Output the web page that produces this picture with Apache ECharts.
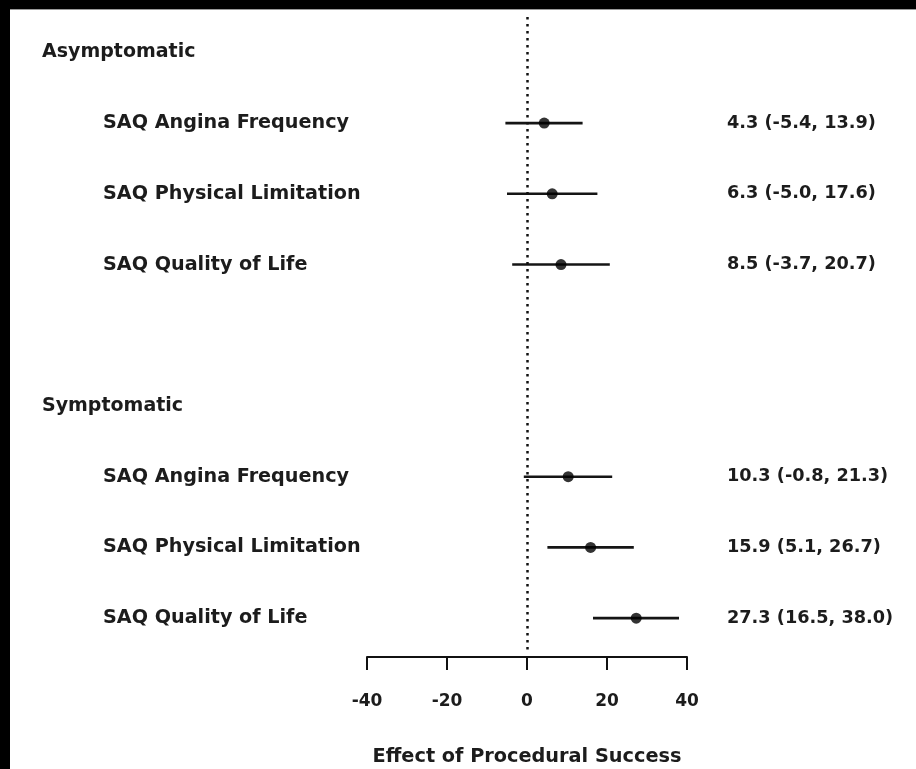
<!DOCTYPE html>
<html>
<head>
<meta charset="utf-8">
<title>Effect of Procedural Success</title>
<script src="https://cdn.jsdelivr.net/npm/echarts@6/dist/echarts.min.js"></script>
<style>
  html, body { margin: 0; padding: 0; background: #fff; }
  #chart { position: absolute; left: 0; top: 0; width: 916px; height: 769px; background: #fff; }
  .frame-top { position: absolute; left: 0; top: 0; width: 916px; height: 9px; background: #000; border-bottom: 1px solid #999; }
  .frame-left { position: absolute; left: 0; top: 0; width: 10px; height: 769px; background: #000; }
</style>
</head>
<body>
<div id="chart"></div>
<div class="frame-top"></div>
<div class="frame-left"></div>
<script>
// Subgroups and outcomes shown in the forest plot
const groups = ['Asymptomatic', 'Symptomatic'];
const outcomes = ['SAQ Angina Frequency', 'SAQ Physical Limitation', 'SAQ Quality of Life'];

// Point estimates and 95% confidence limits, by group then outcome
const estimate = [4.3, 6.3, 8.5, 10.3, 15.9, 27.3];
const lower    = [-5.4, -5.0, -3.7, -0.8, 5.1, 16.5];
const upper    = [13.9, 17.6, 20.7, 21.3, 26.7, 38.0];

// Effect axis
const xMin = -40, xMax = 40, xStep = 20;
const xTitle = 'Effect of Procedural Success';

// Build the row layout: a header row per group, its outcomes, and a spacer between groups
const rows = [];
groups.forEach((g, gi) => {
  if (gi > 0) rows.push({ kind: 'blank', label: '' });
  rows.push({ kind: 'header', label: g });
  outcomes.forEach((o, oi) => {
    rows.push({ kind: 'item', label: o, k: gi * outcomes.length + oi });
  });
});
const rowLabels = rows.map(r => r.label);

const fmt = v => v.toFixed(1);
const points = [], bars = [];
rows.forEach((r, i) => {
  if (r.kind !== 'item') return;
  points.push([estimate[r.k], i]);
  bars.push([lower[r.k], upper[r.k], i]);
});

const FONT = 'DejaVu Sans';
const TXT = '#1c1c1c';

const chart = echarts.init(document.getElementById('chart'), null, { renderer: 'canvas' });
chart.setOption({
  backgroundColor: '#fff',
  animation: false,
  grid: { left: 367, right: 229, top: 17, bottom: 115.5, containLabel: false, outerBoundsMode: 'none' },
  xAxis: {
    type: 'value', min: xMin, max: xMax, interval: xStep, offset: 3.5,
    position: 'bottom',
    axisLine: { show: true, lineStyle: { color: '#111', width: 2 } },
    axisTick: { show: true, inside: false, length: 13, lineStyle: { color: '#111', width: 2 } },
    axisLabel: { margin: 36, color: TXT, fontFamily: FONT, fontWeight: 'bold', fontSize: 17 },
    splitLine: { show: false },
    name: xTitle, nameLocation: 'middle', nameGap: 90,
    nameTextStyle: { color: TXT, fontFamily: FONT, fontWeight: 'bold', fontSize: 19.3 }
  },
  yAxis: [
    {
      // outcome labels
      type: 'category', inverse: true, data: rowLabels, position: 'left',
      axisLine: { show: false }, axisTick: { show: false }, splitLine: { show: false },
      axisLabel: {
        align: 'left', margin: 264, interval: 0,
        color: TXT, fontFamily: FONT, fontWeight: 'bold', fontSize: 19.2,
        formatter: (v, i) => rows[i].kind === 'item' ? v : ''
      }
    },
    {
      // estimate (CI) labels on the right
      type: 'category', inverse: true, data: rowLabels, position: 'right',
      axisLine: { show: false }, axisTick: { show: false }, splitLine: { show: false },
      axisLabel: {
        align: 'left', margin: 40, interval: 0,
        color: TXT, fontFamily: FONT, fontWeight: 'bold', fontSize: 17.7,
        formatter: (v, i) => {
          const r = rows[i];
          if (r.kind !== 'item') return '';
          return fmt(estimate[r.k]) + ' (' + fmt(lower[r.k]) + ', ' + fmt(upper[r.k]) + ')';
        }
      }
    },
    {
      // group headers
      type: 'category', inverse: true, data: rowLabels, position: 'left',
      axisLine: { show: false }, axisTick: { show: false }, splitLine: { show: false },
      axisLabel: {
        align: 'left', margin: 325, interval: 0,
        color: TXT, fontFamily: FONT, fontWeight: 'bold', fontSize: 19,
        formatter: (v, i) => rows[i].kind === 'header' ? v : ''
      }
    }
  ],
  series: [
    {
      // confidence interval segments
      type: 'custom', yAxisIndex: 0, data: bars, z: 2,
      renderItem: (params, api) => {
        const a = api.coord([api.value(0), api.value(2)]);
        const b = api.coord([api.value(1), api.value(2)]);
        return {
          type: 'line',
          shape: { x1: a[0], y1: a[1], x2: b[0], y2: b[1] },
          style: { stroke: '#151515', lineWidth: 2.6 }
        };
      },
      encode: { x: [0, 1], y: 2 }
    },
    {
      // point estimates
      type: 'scatter', yAxisIndex: 0, data: points, z: 3,
      symbol: 'circle', symbolSize: 11,
      itemStyle: { color: '#000' },
      markLine: {
        silent: true, symbol: 'none', label: { show: false },
        lineStyle: { color: '#111', width: 2.5, type: [2.5, 4.5] },
        data: [{ xAxis: 0 }]
      }
    }
  ]
});
</script>
</body>
</html>
